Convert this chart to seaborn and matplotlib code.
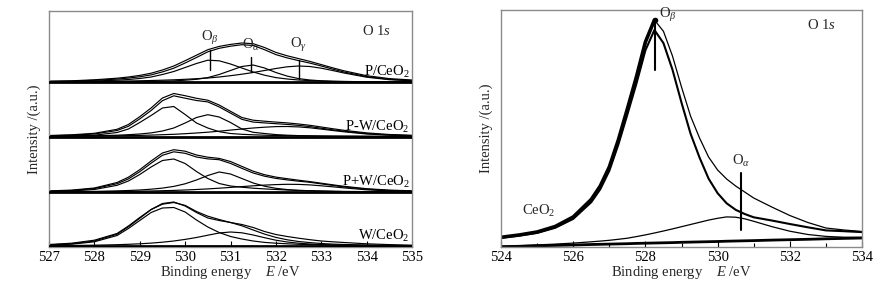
import numpy as np
import pandas as pd
import matplotlib
matplotlib.use("Agg")
import matplotlib.pyplot as plt
from matplotlib.ticker import MultipleLocator
import seaborn as sns

sns.set_theme(style="ticks")
plt.rcParams['font.family'] = ['Liberation Serif', 'DejaVu Serif']
plt.rcParams['mathtext.fontset'] = 'custom'
plt.rcParams['mathtext.rm'] = 'Liberation Serif'
plt.rcParams['mathtext.it'] = 'Liberation Serif:italic'

# ---------------- left panel: four stacked O 1s spectra ----------------
energy_left = [527, 527.5, 528, 528.5, 528.75, 529, 529.25, 529.5, 529.75, 530,
               530.25, 530.5, 530.75, 531, 531.25, 531.5, 531.75, 532, 532.25,
               532.5, 532.75, 533, 533.25, 533.5, 534, 534.5, 535]

sample_names = ['P/CeO$_2$', 'P-W/CeO$_2$', 'P+W/CeO$_2$', 'W/CeO$_2$']
offsets = [165, 110.5, 55, 1]

# P/CeO2
p_raw = [0.8, 1.2, 2.2, 3.8, 5.0, 6.6, 8.8, 12.0, 16.0, 21.3, 26.8, 32.3, 35.6, 37.6,
         39.0, 38.3, 34.5, 29.6, 26.2, 23.4, 20.6, 17.4, 14.2, 11.2, 6.3, 3.4, 2.0]
p_ob = [0.3, 0.5, 1.0, 1.8, 2.5, 3.5, 5.0, 7.5, 10.5, 14.5, 18.5, 21.8, 21.2, 18.0,
        14.0, 10.0, 6.8, 4.4, 3.0, 2.0, 1.4, 1.0, 0.7, 0.5, 0.3, 0.2, 0.1]
p_oa = [0.1, 0.1, 0.2, 0.3, 0.4, 0.5, 0.6, 0.8, 1.1, 1.8, 2.7, 4.4, 7.5, 11.5,
        15.5, 17.0, 14.0, 9.5, 5.9, 3.4, 2.0, 1.2, 0.7, 0.5, 0.3, 0.2, 0.1]
p_og = [0.2, 0.3, 0.5, 0.8, 1.0, 1.2, 1.5, 1.8, 2.2, 2.7, 3.3, 4.0, 5.0, 6.3,
        7.8, 9.5, 11.5, 13.5, 15.2, 16.0, 15.5, 13.8, 11.5, 9.0, 4.8, 2.3, 1.2]

# P-W/CeO2
pw_raw = [1.0, 1.7, 3.2, 7.2, 12.0, 19.8, 28.5, 38.5, 43.0, 40.8, 38.2, 36.3, 31.5, 25.2,
          19.0, 16.3, 15.3, 14.4, 13.6, 12.5, 11.2, 9.5, 7.8, 6.2, 3.6, 2.0, 1.2]
pw_ob = [0.3, 0.6, 1.3, 4.0, 7.5, 14.0, 21.0, 28.5, 30.0, 22.0, 13.5, 8.5, 4.8, 3.0,
         2.2, 1.7, 1.3, 1.0, 0.8, 0.6, 0.5, 0.4, 0.3, 0.3, 0.2, 0.1, 0.1]
pw_oa = [0.2, 0.4, 0.7, 1.3, 1.8, 2.5, 3.6, 5.5, 8.5, 13.5, 19.0, 21.8, 19.5, 14.0,
         7.5, 4.2, 3.0, 1.9, 1.3, 0.9, 0.7, 0.5, 0.4, 0.3, 0.2, 0.1, 0.1]
pw_og = [0.2, 0.3, 0.5, 0.7, 0.9, 1.1, 1.4, 1.8, 2.2, 2.8, 3.5, 4.3, 5.3, 6.4,
         7.5, 8.5, 9.3, 9.9, 10.0, 9.6, 8.7, 7.4, 6.0, 4.7, 2.5, 1.3, 0.7]

# P+W/CeO2
ppw_raw = [1.1, 1.9, 4.0, 9.5, 14.8, 22.3, 31.0, 39.0, 42.3, 40.8, 37.0, 34.8, 33.6, 30.5,
           25.6, 20.8, 17.3, 14.9, 13.3, 11.8, 10.4, 8.8, 7.2, 5.7, 3.3, 1.9, 1.2]
ppw_ob = [0.5, 1.0, 2.5, 6.7, 11.0, 17.5, 25.0, 31.5, 33.0, 28.5, 20.5, 13.5, 8.5, 6.0,
          4.8, 3.8, 3.1, 2.5, 2.0, 1.6, 1.3, 1.0, 0.8, 0.6, 0.4, 0.3, 0.2]
ppw_oa = [0.2, 0.3, 0.6, 1.1, 1.5, 2.0, 2.8, 3.9, 5.6, 8.2, 12.0, 16.5, 20.0, 18.0,
          13.5, 9.0, 5.8, 3.7, 2.4, 1.6, 1.3, 0.9, 0.6, 0.4, 0.2, 0.1, 0.1]
ppw_og = [0.1, 0.2, 0.3, 0.5, 0.6, 0.8, 1.0, 1.3, 1.6, 2.0, 2.5, 3.1, 3.8, 4.6,
          5.4, 6.2, 6.9, 7.4, 7.7, 7.6, 7.1, 6.2, 5.2, 4.1, 2.2, 1.1, 0.6]

# W/CeO2
w_raw = [1.5, 2.8, 5.8, 12.5, 20.0, 28.5, 36.5, 42.5, 44.0, 40.0, 33.5, 28.0, 25.5, 23.5,
         21.5, 18.5, 14.5, 11.5, 9.5, 7.8, 6.3, 5.0, 4.2, 3.5, 2.2, 1.4, 0.8]
w_ob = [0.8, 1.8, 4.2, 10.5, 17.5, 25.5, 33.5, 38.0, 38.5, 34.0, 26.0, 19.0, 13.5, 9.5,
        7.0, 5.0, 3.6, 2.8, 2.2, 1.7, 1.4, 1.1, 0.9, 0.7, 0.5, 0.3, 0.2]
w_oa = [0.3, 0.5, 0.8, 1.3, 1.7, 2.2, 2.9, 3.8, 5.0, 6.6, 8.5, 10.8, 13.0, 14.0,
        13.2, 11.0, 8.3, 5.8, 4.0, 2.8, 2.0, 1.4, 1.0, 0.8, 0.5, 0.3, 0.2]

raw_left = [p_raw, pw_raw, ppw_raw, w_raw]
comps_left = [[p_ob, p_oa, p_og], [pw_ob, pw_oa, pw_og], [ppw_ob, ppw_oa, ppw_og], [w_ob, w_oa]]

# peak markers on the top spectrum
peak_labels = [r'O$_\beta$', r'O$_\alpha$', r'O$_\gamma$']
peak_energy = [530.55, 531.45, 532.5]
peak_top = [197, 190, 187]
peak_bottom = [177, 175, 168]
peak_text_y = [209, 202, 202]

# ---------------- right panel: CeO2 O 1s ----------------
energy_right = [524, 524.5, 525, 525.5, 526, 526.5, 526.75, 527, 527.25, 527.5, 527.75,
                528, 528.25, 528.5, 528.75, 529, 529.25, 529.5, 529.75, 530, 530.25,
                530.5, 530.75, 531, 531.5, 532, 532.5, 533, 533.5, 534]
ceo2_bg = [0.3, 0.7, 1.2, 1.6, 2.0, 2.5, 2.7, 2.9, 3.1, 3.3, 3.6, 3.8, 4.0, 4.2, 4.4,
           4.7, 4.9, 5.1, 5.3, 5.5, 5.8, 6.0, 6.2, 6.4, 6.9, 7.3, 7.7, 8.2, 8.6, 9.0]
ceo2_ob = [9.0, 10.7, 12.9, 17.6, 26.1, 42.3, 55.1, 73.3, 99.3, 129.2, 159.6, 192.9, 213.0,
           199.7, 172.9, 139.7, 108.5, 84.3, 63.1, 48.3, 37.9, 31.2, 26.8, 23.3, 19.6,
           15.7, 12.0, 8.4, 7.2, 5.9]
ceo2_oa = [0.4, 0.6, 0.9, 1.3, 1.9, 2.7, 3.2, 3.8, 4.6, 5.5, 6.8, 8.3, 10.0, 11.8, 13.7,
           15.6, 17.6, 19.6, 21.6, 23.2, 24.3, 23.8, 22.0, 19.3, 13.5, 8.5, 4.8, 2.4, 1.2, 0.6]

df_right = pd.DataFrame({'E': energy_right, 'bg': ceo2_bg, 'ob': ceo2_ob, 'oa': ceo2_oa})
df_right['ob_line'] = df_right['bg'] + df_right['ob']
df_right['oa_line'] = df_right['bg'] + df_right['oa']
df_right['fit'] = df_right['bg'] + df_right['ob'] + df_right['oa']
rising = df_right[df_right['E'] <= 528.25]

fig = plt.figure(figsize=(8.81, 2.90), dpi=100)
ax1 = fig.add_axes([49 / 881, 43 / 290, 363 / 881, 236 / 290])
ax2 = fig.add_axes([501 / 881, 43 / 290, 361 / 881, 237 / 290])

lw = 0.85
for name, off, raw, comps in zip(sample_names, offsets, raw_left, comps_left):
    fit = np.sum(np.array(comps), axis=0)
    ax1.axhline(off, color='black', lw=2.0, zorder=3)
    sns.lineplot(x=energy_left, y=np.array(raw) + off, ax=ax1, color='black', lw=lw, estimator=None)
    sns.lineplot(x=energy_left, y=fit + off, ax=ax1, color='black', lw=lw, estimator=None)
    for c in comps:
        sns.lineplot(x=energy_left, y=np.array(c) + off, ax=ax1, color='black', lw=lw, estimator=None)
    ax1.text(534.95, off + 10, name, ha='right', va='center', fontsize=10.5, color='black')

for lab, e, top, bot, ty in zip(peak_labels, peak_energy, peak_top, peak_bottom, peak_text_y):
    ax1.plot([e, e], [bot, top], color='black', lw=1.0)
    ax1.text(e, ty, lab, ha='center', va='center', fontsize=10.5)

ax1.text(533.9, 216, 'O 1$s$', ha='left', va='center', fontsize=10.5)
ax1.set_xlim(527, 535)
ax1.set_ylim(0, 236)
ax1.xaxis.set_major_locator(MultipleLocator(1))

# right panel curves
sns.lineplot(data=df_right, x='E', y='bg', ax=ax2, color='black', lw=2.0, estimator=None)
sns.lineplot(data=df_right, x='E', y='oa_line', ax=ax2, color='black', lw=0.9, estimator=None)
sns.lineplot(data=df_right, x='E', y='fit', ax=ax2, color='black', lw=0.9, estimator=None)
sns.lineplot(data=df_right, x='E', y='ob_line', ax=ax2, color='black', lw=1.5, estimator=None)
sns.lineplot(data=rising, x='E', y='fit', ax=ax2, color='black', lw=2.6, estimator=None)

ax2.plot([528.27, 528.27], [177, 227], color='black', lw=1.5)
ax2.plot([528.27], [227], marker='o', color='black', ms=3)
ax2.text(528.38, 232, r'O$_\beta$', ha='left', va='center', fontsize=10.5)
ax2.plot([530.65, 530.65], [17, 74], color='black', lw=1.5)
ax2.text(530.65, 86, r'O$_\alpha$', ha='center', va='center', fontsize=10.5)
ax2.text(524.57, 36, 'CeO$_2$', ha='left', va='center', fontsize=10.5)
ax2.text(532.48, 222, 'O 1$s$', ha='left', va='center', fontsize=10.5)
ax2.set_xlim(524, 534)
ax2.set_ylim(0, 237)
ax2.xaxis.set_major_locator(MultipleLocator(2))
ax2.xaxis.set_minor_locator(MultipleLocator(1))

for ax in (ax1, ax2):
    ax.set_yticks([])
    ax.set_ylabel('Intensity /(a.u.)', fontsize=10.5, labelpad=6)
    ax.set_xlabel('Binding energy    $E$ /eV', fontsize=10.5, labelpad=0)
    for s in ax.spines.values():
        s.set_color('#8a8a8a')
        s.set_linewidth(1.0)
    ax.tick_params(axis='x', which='both', direction='in', colors='black', labelsize=10.5, pad=3)
    ax.tick_params(axis='x', which='major', length=4, width=0.8)
    ax.tick_params(axis='x', which='minor', length=3, width=0.8)
    ax.tick_params(axis='x', which='both', top=False)

fig.savefig('out.png', dpi=100)
